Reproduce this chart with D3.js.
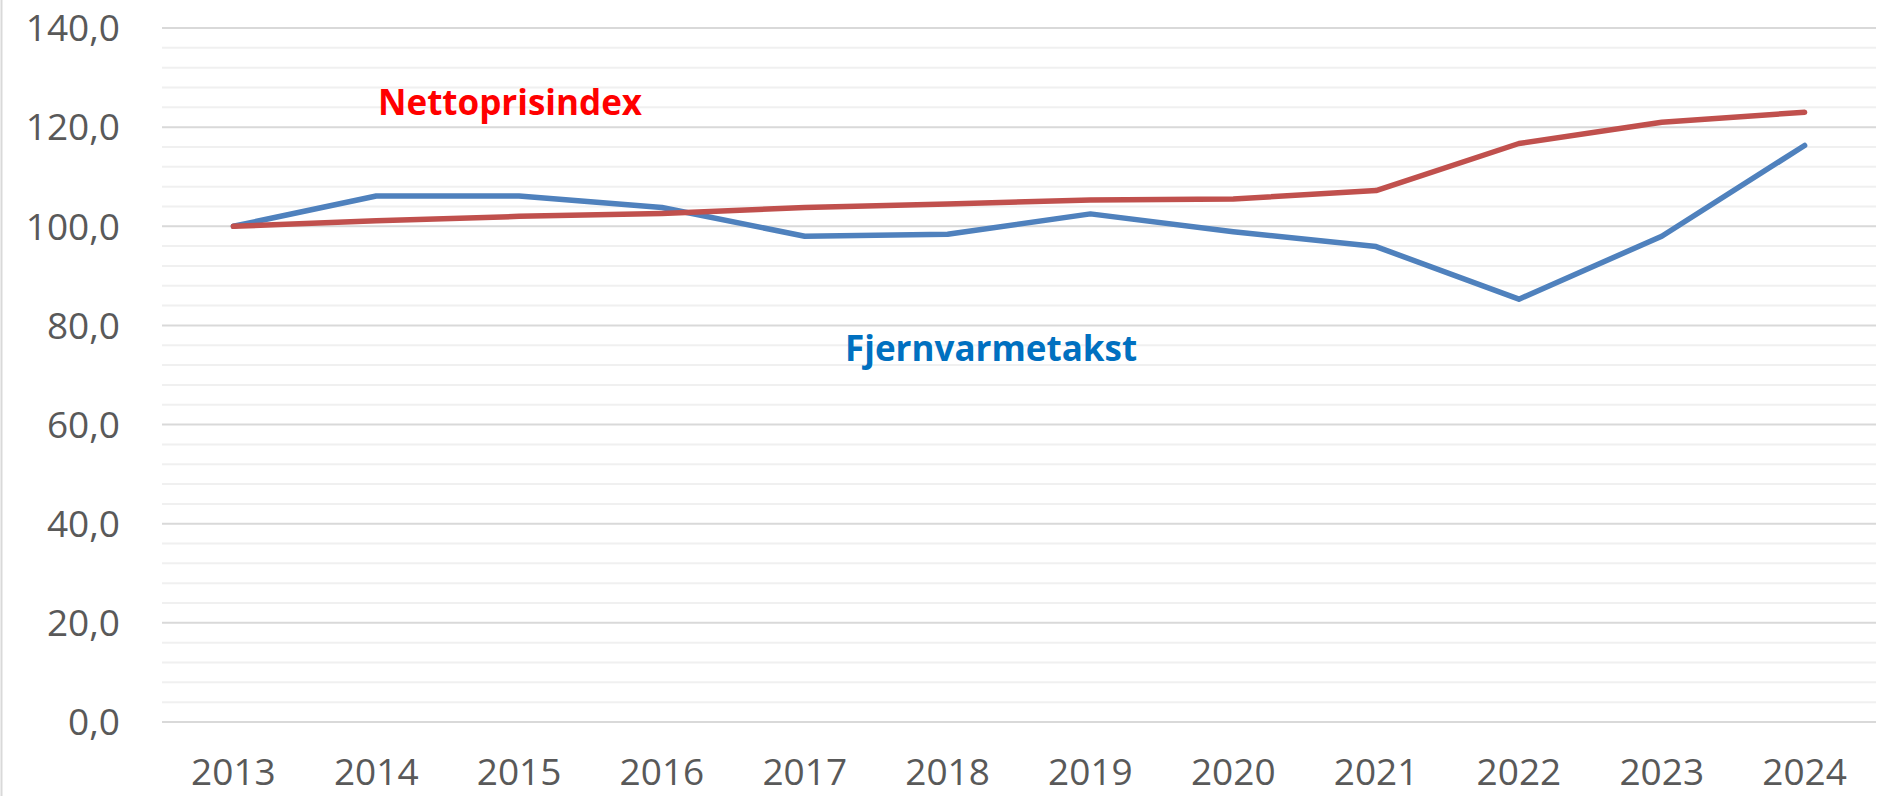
<!DOCTYPE html>
<html>
<head>
<meta charset="utf-8">
<script src="https://cdn.jsdelivr.net/npm/d3@7"></script>
<style>
  body { margin: 0; background: #fff; }
  svg { display: block; }
</style>
</head>
<body>
<script>
// data (index, 2013 = 100)
const years = ['2013', '2014', '2015', '2016', '2017', '2018', '2019', '2020', '2021', '2022', '2023', '2024']
const nettoprisindex = [100, 101.1, 102.0, 102.6, 103.8, 104.5, 105.3, 105.5, 107.2, 116.7, 121.0, 123.0]
const fjernvarmetakst = [100, 106.1, 106.1, 103.8, 98.0, 98.4, 102.5, 98.9, 95.9, 85.3, 98.0, 116.3]
const yTicks = [0, 20, 40, 60, 80, 100, 120, 140]
const minorTicks = d3.range(0, 141, 4)

const m = {
    width: 1878,
    height: 796,
    left: 162,
    right: 2,
    top: 28,
    bottom: 74
}

const svg = d3.select('body').append('svg')
    .attr('width', m.width)
    .attr('height', m.height)

// thin frame line on the left edge
svg.append('line')
    .attr('x1', 1.5).attr('x2', 1.5)
    .attr('y1', 0).attr('y2', m.height)
    .attr('stroke', '#d9d9d9')
    .attr('stroke-width', 2)

const x = d3.scalePoint()
    .domain(years)
    .range([m.left, m.width - m.right])
    .padding(0.5)

const y = d3.scaleLinear()
    .domain([0, 140])
    .range([m.height - m.bottom, m.top])

const locale = d3.formatLocale({ decimal: ',', thousands: '.', grouping: [3], currency: ['', ' kr'] })
const fmt = locale.format('.1f')

// minor gridlines
svg.append('g')
    .selectAll('line')
    .data(minorTicks.filter(function (d) { return d % 20 != 0 }))
    .enter()
    .append('line')
    .attr('x1', m.left)
    .attr('x2', m.width - m.right)
    .attr('y1', function (d) { return y(d) })
    .attr('y2', function (d) { return y(d) })
    .attr('stroke', '#f0f0f0')
    .attr('stroke-width', 2)

// major gridlines
svg.append('g')
    .selectAll('line')
    .data(yTicks)
    .enter()
    .append('line')
    .attr('x1', m.left)
    .attr('x2', m.width - m.right)
    .attr('y1', function (d) { return y(d) })
    .attr('y2', function (d) { return y(d) })
    .attr('stroke', '#d9d9d9')
    .attr('stroke-width', 2)

// y axis labels
svg.append('g')
    .selectAll('text')
    .data(yTicks)
    .enter()
    .append('text')
    .attr('x', 120)
    .attr('y', function (d) { return y(d) })
    .attr('dy', '0.36em')
    .attr('text-anchor', 'end')
    .attr('font-family', '"Open Sans", sans-serif')
    .attr('font-size', 37)
    .attr('fill', '#595959')
    .text(function (d) { return fmt(d) })

// x axis labels
svg.append('g')
    .selectAll('text')
    .data(years)
    .enter()
    .append('text')
    .attr('x', function (d) { return x(d) })
    .attr('y', 785)
    .attr('text-anchor', 'middle')
    .attr('font-family', '"Open Sans", sans-serif')
    .attr('font-size', 37)
    .attr('fill', '#595959')
    .text(function (d) { return d })

const line = d3.line()
    .x(function (d, i) { return x(years[i]) })
    .y(function (d) { return y(d) })

svg.append('path')
    .datum(fjernvarmetakst)
    .attr('fill', 'none')
    .attr('stroke', '#4f81bd')
    .attr('stroke-width', 5.5)
    .attr('stroke-linejoin', 'round')
    .attr('stroke-linecap', 'round')
    .attr('d', line)

svg.append('path')
    .datum(nettoprisindex)
    .attr('fill', 'none')
    .attr('stroke', '#c0504d')
    .attr('stroke-width', 5.5)
    .attr('stroke-linejoin', 'round')
    .attr('stroke-linecap', 'round')
    .attr('d', line)

// series labels placed inside the plot
svg.append('text')
    .attr('x', 378)
    .attr('y', 115)
    .attr('font-family', '"Open Sans", sans-serif')
    .attr('font-weight', 'bold')
    .attr('font-size', 35)
    .attr('fill', '#ff0000')
    .text('Nettoprisindex')

svg.append('text')
    .attr('x', 845)
    .attr('y', 361)
    .attr('font-family', '"Open Sans", sans-serif')
    .attr('font-weight', 'bold')
    .attr('font-size', 35)
    .attr('fill', '#0070c0')
    .text('Fjernvarmetakst')
</script>
</body>
</html>
